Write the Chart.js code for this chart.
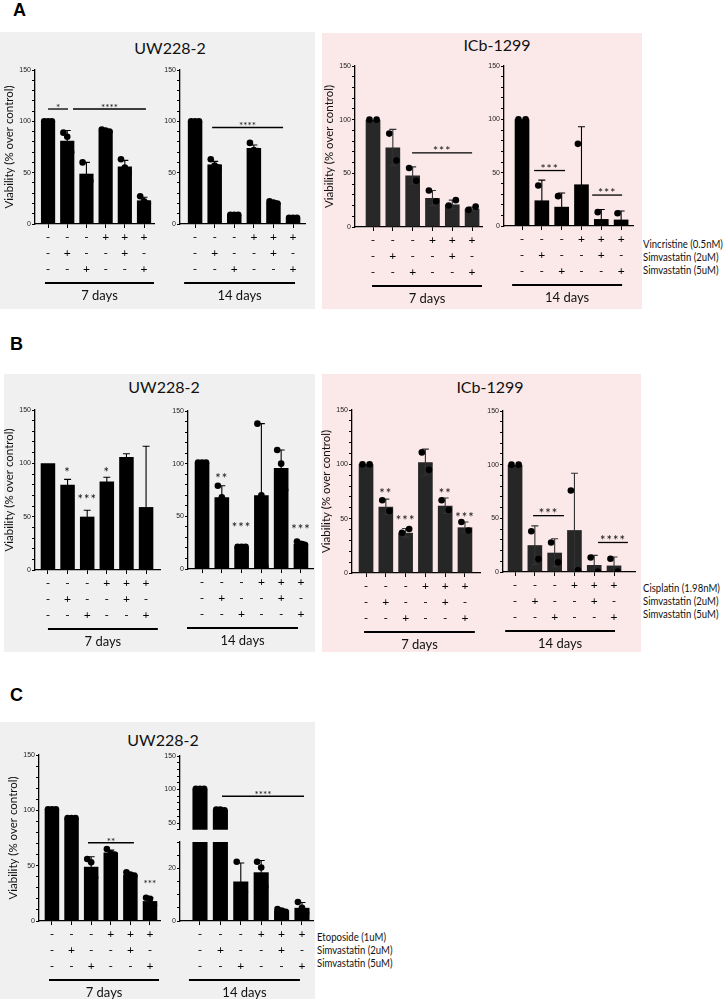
<!DOCTYPE html>
<html>
<head>
<meta charset="utf-8">
<title>Viability panels</title>
<script src="https://cdn.jsdelivr.net/npm/chart.js@4.4.1/dist/chart.umd.min.js"></script>
<style>
  body { margin: 0; background: #fff; }
  #fig { position: relative; width: 726px; height: 999px; overflow: hidden; font-family: Lato, "Open Sans", sans-serif; color: #111; }
  .box { position: absolute; }
  .gray { background: #f0f0f0; }
  .pink { background: #fbe8e8; }
  .letter { position: absolute; font: bold 18px "Liberation Sans", Arial, sans-serif; line-height: 18px; color: #000; }
  .title { position: absolute; width: 200px; text-align: center; font-size: 16px; line-height: 16px; }
  .side { position: absolute; font-size: 10.5px; line-height: 12px; white-space: nowrap; transform: scaleX(0.91); transform-origin: left center; }
  canvas { position: absolute; }
</style>
</head>
<body>
<div id="fig">
  <div class="letter" style="left:13px;top:1px">A</div>
  <div class="box gray" style="left:0;top:32px;width:315px;height:277px"></div>
  <div class="box pink" style="left:322px;top:33px;width:320px;height:276px"></div>
  <div class="title" style="left:70px;top:40px">UW228-2</div>
  <div class="title" style="left:397px;top:37px">ICb-1299</div>
  <div class="side" style="left:643px;top:238px">Vincristine (0.5nM)</div>
  <div class="side" style="left:643px;top:251px">Simvastatin (2uM)</div>
  <div class="side" style="left:643px;top:264px">Simvastatin (5uM)</div>

  <div class="letter" style="left:10px;top:335px">B</div>
  <div class="box gray" style="left:4px;top:374px;width:311px;height:278px"></div>
  <div class="box pink" style="left:322px;top:374px;width:319px;height:278px"></div>
  <div class="title" style="left:64px;top:379px">UW228-2</div>
  <div class="title" style="left:390px;top:379px">ICb-1299</div>
  <div class="side" style="left:643px;top:582px">Cisplatin (1.98nM)</div>
  <div class="side" style="left:643px;top:595px">Simvastatin (2uM)</div>
  <div class="side" style="left:643px;top:608px">Simvastatin (5uM)</div>

  <div class="letter" style="left:10px;top:686px">C</div>
  <div class="box gray" style="left:0;top:722px;width:315px;height:277px"></div>
  <div class="title" style="left:63px;top:732px">UW228-2</div>
  <div class="side" style="left:317px;top:931px">Etoposide (1uM)</div>
  <div class="side" style="left:317px;top:944px">Simvastatin (2uM)</div>
  <div class="side" style="left:317px;top:957px">Simvastatin (5uM)</div>
</div>
<script>
// Viability (% over control), one array per group

const FONT = 'Lato, "Open Sans", sans-serif';

// +/- rows under each bar: drug, simvastatin 2uM, simvastatin 5uM
const conditions = [['-', '-', '-'], ['-', '+', '-'], ['-', '-', '+'], ['+', '-', '-'], ['+', '+', '-'], ['+', '-', '+']];
const yLabels = [0, 50, 100, 150];
const yLabelsUpper = [50, 100, 150];
const yLabelsLower = [0, 20];

// A - vincristine
const vcrUw7Mean = [100, 81, 49, 91, 56, 23];
const vcrUw7Sd = [0, 10, 11, 1, 6, 3];
const vcrUw7Pts = [[100, 100, 100], [89, 85, 70], [60, 45, 42], [92, 91, 90], [63, 55, 50], [27, 22, 20]];
const vcrUw7Sig = [[0, 1.04, 112, '*'], [1.3, 5.1, 112, '****']];

const vcrUw14Mean = [100, 58, 9, 74, 21, 6];
const vcrUw14Sd = [0, 3, 0.5, 3, 1.5, 0.5];
const vcrUw14Pts = [[100, 100, 100], [63, 57, 55], [9, 9, 9], [79, 72, 71], [22, 21, 20], [6, 6, 6]];
const vcrUw14Sig = [[0.87, 4.49, 94, '****']];

const vcrIcb7Mean = [100, 74, 48, 27, 21, 17];
const vcrIcb7Sd = [0, 17, 8, 7, 4, 1.5];
const vcrIcb7Pts = [[100, 100], [87, 62], [55, 43], [34, 24], [20, 25], [16, 19]];
const vcrIcb7Sig = [[1.97, 5.0, 69, '***']];

const vcrIcb14Mean = [100, 24, 18, 39, 6.5, 6];
const vcrIcb14Sd = [0, 19, 13, 54, 9, 8];
const vcrIcb14Pts = [[100, 100], [38, 10], [28, 9], [77, 0], [13, 0], [12, 0]];
const vcrIcb14Sig = [[0.61, 2.17, 52, '***'], [3.54, 5.05, 29, '***']];

// B - cisplatin
const cisUw7Mean = [100, 80, 50, 83, 106, 59];
const cisUw7Sd = [0, 5, 6, 4, 3, 57];
const cisUw7Pts = [[], [], [], [], [], []];
const cisUw7Marks = [[1, 94, '*'], [2, 69, '***'], [3, 94, '*']];

const cisUw14Mean = [101, 68, 21, 70, 96, 24];
const cisUw14Sd = [0, 11, 0.5, 68, 17, 2];
const cisUw14Pts = [[101, 101, 101], [79, 68, 57], [21, 21, 21], [138, 70, 2], [113, 100, 75], [26, 24, 23]];
const cisUw14Marks = [[1, 88, '**'], [2, 42, '***'], [5, 40, '***']];

const cisIcb7Mean = [100, 61, 37, 102, 62, 42];
const cisIcb7Sd = [0, 7, 4, 12, 7, 5];
const cisIcb7Pts = [[100, 100], [67, 57], [37, 40.5], [111, 95], [67, 58], [47, 39]];
const cisIcb7Marks = [[1, 76, '**'], [2, 50.5, '***'], [4, 76, '**'], [5, 53.5, '***']];

const cisIcb14Mean = [100, 25, 18, 39, 6.5, 6];
const cisIcb14Sd = [0, 18, 13, 53, 9, 8];
const cisIcb14Pts = [[100, 100], [38, 12], [27.5, 9], [76, 1.5], [13.5, 0.5], [12.3, 0.5]];
const cisIcb14Sig = [[0.91, 2.47, 52.5, '***'], [4.19, 5.7, 27.5, '****']];

// C - etoposide
const etoUw7Mean = [101, 93, 49, 62, 42, 18];
const etoUw7Sd = [0, 0, 9, 2, 1, 3];
const etoUw7Pts = [[101, 101, 101], [93, 93, 93], [56, 53, 39], [65, 61, 60], [44, 42, 41], [21, 20, 14]];
const etoUw7Sig = [[1.84, 4.18, 70.7, '**']];
const etoUw7Marks = [[5, 35.5, '***']];

const etoUw14Mean = [101, 70, 15, 18.5, 4, 5];
const etoUw14Sd = [0, 1, 7, 4.5, 0.5, 2];
const etoUw14Pts = [[101, 101, 101], [70, 70, 69], [22.5, 12, 11], [22.5, 20.3, 13], [4.5, 4, 3.5], [7.2, 5, 3]];
const etoUw14Sig = [[1.08, 5.1, 90, '****']];

// ----------------------------------------------------------------------------
// Drawing helpers
// ----------------------------------------------------------------------------

const fig = document.getElementById('fig');
const YW = 36, PAD_T = 8, PAD_R = 8;

// error bars right after the bars, sig lines / day labels at the end
const figPlugin = {
  id: 'fig',
  afterDatasetDraw(chart, args) {
    if (args.index !== 0) return;
    const o = chart.options.plugins.fig;
    const { ctx, chartArea: a } = chart;
    const x = chart.scales.x, y = chart.scales.y;
    ctx.save();
    ctx.beginPath();
    ctx.rect(a.left, a.top - 1, a.right - a.left, a.bottom - a.top + 1);
    ctx.clip();
    ctx.strokeStyle = o.errColor;
    ctx.lineWidth = 1.1;
    o.mean.forEach((m, i) => {
      const e = o.sd[i];
      if (!e) return;
      const px = x.getPixelForValue(i);
      const top = y.getPixelForValue(m + e);
      const bot = y.getPixelForValue(m - e);
      ctx.beginPath();
      ctx.moveTo(px, bot); ctx.lineTo(px, top);
      ctx.moveTo(px - 3.5, top); ctx.lineTo(px + 3.5, top);
      ctx.moveTo(px - 3.5, bot); ctx.lineTo(px + 3.5, bot);
      ctx.stroke();
    });
    ctx.restore();
  },
  afterDraw(chart) {
    const o = chart.options.plugins.fig;
    const { ctx, chartArea: a } = chart;
    const x = chart.scales.x, y = chart.scales.y;
    ctx.save();
    ctx.fillStyle = '#111';
    ctx.strokeStyle = '#000';
    ctx.textAlign = 'center';
    ctx.font = o.starSize + 'px ' + FONT;
    ctx.letterSpacing = o.starGap + 'px';

    (o.sig || []).forEach(([from, to, v, label]) => {
      const py = y.getPixelForValue(v);
      ctx.lineWidth = 1.3;
      ctx.beginPath();
      ctx.moveTo(x.getPixelForValue(from), py);
      ctx.lineTo(x.getPixelForValue(to), py);
      ctx.stroke();
      ctx.textBaseline = 'alphabetic';
      ctx.fillText(label, x.getPixelForValue((from + to) / 2), py + 1 + o.starSize * 0.1);
    });

    (o.marks || []).forEach(([at, v, label]) => {
      ctx.textBaseline = 'alphabetic';
      ctx.fillText(label, x.getPixelForValue(at), y.getPixelForValue(v) + o.starSize * 0.55);
    });
    ctx.letterSpacing = '0px';

    if (o.days) {
      const yl = a.bottom + 59;
      ctx.lineWidth = 2;
      ctx.beginPath();
      ctx.moveTo(x.getPixelForValue(o.span[0]), yl);
      ctx.lineTo(x.getPixelForValue(o.span[1]), yl);
      ctx.stroke();
      ctx.font = '13px ' + FONT;
      ctx.textBaseline = 'middle';
      ctx.fillText(o.days, x.getPixelForValue((o.span[0] + o.span[1]) / 2), a.bottom + 72);
    }
    ctx.restore();
  }
};

function dotData(pts) {
  const out = [];
  pts.forEach((arr, i) => {
    const step = arr.length === 2 ? 0.36 : 0.2;
    arr.forEach((v, k) => out.push({ x: i + (k - (arr.length - 1) / 2) * step, y: v }));
  });
  return out;
}

function makeChart(g, s) {
  const xh = g.noX ? 0 : 80;
  const cv = document.createElement('canvas');
  cv.width = g.xEnd - g.ax + YW + PAD_R;
  cv.height = g.y0 - g.yTop + PAD_T + xh;
  cv.style.left = (g.ax - YW) + 'px';
  cv.style.top = (g.yTop - PAD_T) + 'px';
  fig.appendChild(cv);

  const yMin = g.yMin ?? 0, yMax = g.yMax ?? 150, step = g.step ?? 10;
  const labels = s.yLabels || yLabels;

  return new Chart(cv, {
    type: 'bar',
    data: {
      datasets: [
        {
          type: 'bar',
          data: s.mean.map((v, i) => ({ x: i, y: v })),
          backgroundColor: g.bar || '#000',
          categoryPercentage: 1,
          barPercentage: 0.74,
          order: 1,
          clip: g.clip
        },
        {
          type: 'scatter',
          data: dotData(s.pts),
          pointRadius: 3.3,
          pointBackgroundColor: '#000',
          pointBorderWidth: 0,
          order: 0,
          clip: g.clip
        }
      ]
    },
    options: {
      responsive: false,
      animation: false,
      devicePixelRatio: 1,
      layout: { padding: { top: PAD_T, right: PAD_R, left: 0, bottom: 0 } },
      plugins: {
        legend: { display: false },
        tooltip: { enabled: false },
        fig: {
          mean: s.mean, sd: s.sd, sig: s.sig, marks: s.marks,
          days: g.days, span: g.span, errColor: g.errColor || '#000',
          starSize: g.starSize || 10, starGap: g.starGap || 0
        }
      },
      scales: {
        x: {
          type: 'linear',
          display: !g.noX,
          min: g.xMin,
          max: g.xMax,
          offset: false,
          afterBuildTicks: (sc) => { sc.ticks = conditions.map((c, i) => ({ value: i })); },
          afterFit: (sc) => { sc.height = xh; },
          ticks: {
            autoSkip: false, maxRotation: 0, minRotation: 0, padding: 1,
            color: '#000',
            font: { size: 12, family: FONT, lineHeight: 1.34 },
            callback: (v, i) => conditions[i]
          },
          grid: { drawOnChartArea: false, offset: false, tickLength: 4, color: '#000' },
          border: { color: '#000', width: 1.3 }
        },
        y: {
          min: yMin,
          max: yMax,
          afterBuildTicks: (sc) => {
            const t = [];
            for (let v = yMin; v <= yMax + 1e-6; v += step) t.push({ value: v });
            sc.ticks = t;
          },
          afterFit: (sc) => { sc.width = YW; },
          ticks: {
            autoSkip: false, padding: 1, color: '#222',
            font: { size: 7, family: '"Liberation Sans", Arial, sans-serif' },
            callback: (v) => (labels.includes(v) ? String(v) : '')
          },
          grid: { drawOnChartArea: false, tickLength: 3, color: '#000' },
          border: { color: '#000', width: 1.3 },
          title: {
            display: !!g.yTitle,
            text: 'Viability (% over control)',
            color: '#111',
            font: { size: 11.5, family: FONT },
            padding: { top: 3, bottom: 0 }
          }
        }
      }
    },
    plugins: [figPlugin]
  });
}

// ----------------------------------------------------------------------------
// Panels
// ----------------------------------------------------------------------------

// A
makeChart({ ax: 35, xEnd: 154, yTop: 70, y0: 224, xMin: -0.68, xMax: 5.52, yTitle: true, days: '7 days', span: [-0.16, 5.52] },
  { mean: vcrUw7Mean, sd: vcrUw7Sd, pts: vcrUw7Pts, sig: vcrUw7Sig });
makeChart({ ax: 180, xEnd: 305, yTop: 70, y0: 224, xMin: -0.77, xMax: 5.61, days: '14 days', span: [-0.56, 5.1] },
  { mean: vcrUw14Mean, sd: vcrUw14Sd, pts: vcrUw14Pts, sig: vcrUw14Sig });
makeChart({ ax: 355, xEnd: 482, yTop: 66, y0: 227, xMin: -0.91, xMax: 5.5, yTitle: true, bar: '#282828', errColor: '#333', starSize: 12, starGap: 1, days: '7 days', span: [-0.05, 5.5] },
  { mean: vcrIcb7Mean, sd: vcrIcb7Sd, pts: vcrIcb7Pts, sig: vcrIcb7Sig });
makeChart({ ax: 504, xEnd: 633, yTop: 66, y0: 226, xMin: -0.91, xMax: 5.6, starSize: 12, starGap: 1, days: '14 days', span: [-0.5, 5.05] },
  { mean: vcrIcb14Mean, sd: vcrIcb14Sd, pts: vcrIcb14Pts, sig: vcrIcb14Sig });

// B
makeChart({ ax: 35, xEnd: 160, yTop: 410, y0: 570, xMin: -0.66, xMax: 5.71, yTitle: true, starSize: 13, starGap: 1, days: '7 days', span: [0, 5.6] },
  { mean: cisUw7Mean, sd: cisUw7Sd, pts: cisUw7Pts, marks: cisUw7Marks });
makeChart({ ax: 188, xEnd: 313, yTop: 411, y0: 569, xMin: -0.71, xMax: 5.61, starSize: 13, starGap: 1, days: '14 days', span: [-0.76, 4.85] },
  { mean: cisUw14Mean, sd: cisUw14Sd, pts: cisUw14Pts, marks: cisUw14Marks });
makeChart({ ax: 352, xEnd: 480, yTop: 410, y0: 573, xMin: -0.71, xMax: 5.76, yTitle: true, bar: '#262626', errColor: '#333', starSize: 13, starGap: 1, days: '7 days', span: [-0.1, 5.5] },
  { mean: cisIcb7Mean, sd: cisIcb7Sd, pts: cisIcb7Pts, marks: cisIcb7Marks });
makeChart({ ax: 503, xEnd: 635, yTop: 411, y0: 572, xMin: -0.61, xMax: 6.06, bar: '#262626', errColor: '#333', starSize: 13, starGap: 1, days: '14 days', span: [-0.5, 5.05] },
  { mean: cisIcb14Mean, sd: cisIcb14Sd, pts: cisIcb14Pts, sig: cisIcb14Sig });

// C (14 days has a broken y axis: two stacked charts)
makeChart({ ax: 39, xEnd: 160, yTop: 755, y0: 921, xMin: -0.66, xMax: 5.51, yTitle: true, days: '7 days', span: [-0.15, 5.46] },
  { mean: etoUw7Mean, sd: etoUw7Sd, pts: etoUw7Pts, sig: etoUw7Sig, marks: etoUw7Marks });
makeChart({ ax: 180, xEnd: 313, yTop: 756, y0: 835, yMin: 40, yMax: 150, xMin: -0.98, xMax: 5.54, noX: true, clip: 0 },
  { mean: etoUw14Mean, sd: etoUw14Sd, pts: etoUw14Pts, sig: etoUw14Sig, yLabels: yLabelsUpper });
makeChart({ ax: 180, xEnd: 313, yTop: 842, y0: 921, yMin: 0, yMax: 30, step: 5, xMin: -0.98, xMax: 5.54, clip: 0, days: '14 days', span: [-0.54, 4.9] },
  { mean: etoUw14Mean, sd: etoUw14Sd, pts: etoUw14Pts, yLabels: yLabelsLower });
</script>
</body>
</html>
